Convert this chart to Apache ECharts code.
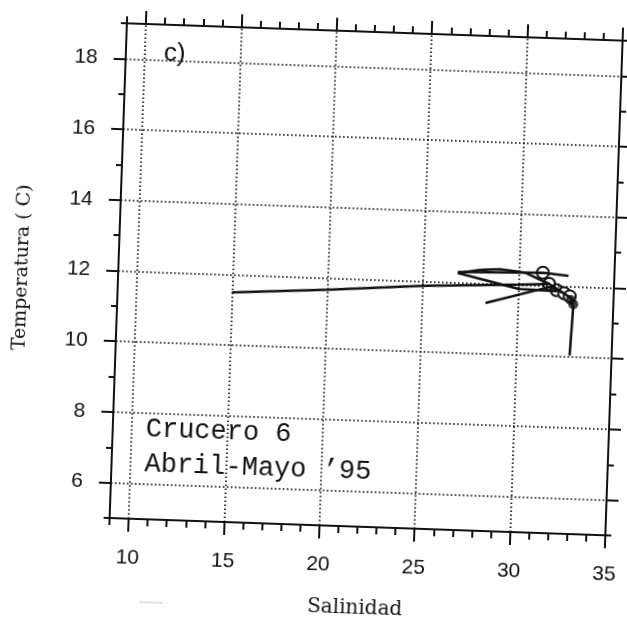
<!DOCTYPE html>
<html>
<head>
<meta charset="utf-8">
<script src="https://cdn.jsdelivr.net/npm/echarts@6/dist/echarts.min.js"></script>
<style>
  html, body { margin: 0; padding: 0; background: #fff; overflow: hidden; }
  #chart { width: 627px; height: 620px; transform: rotate(2deg); }
</style>
</head>
<body>
<div id="chart"></div>
<script>
// ticks
const xTicks = [10, 15, 20, 25, 30, 35]
const yTicks = [6, 8, 10, 12, 14, 16, 18]
const xGrid = [10, 15, 20, 25, 30]

// perfiles T-S (salinidad, temperatura)
const perfilLargo = [[15.0, 11.5], [20, 11.67], [25, 11.87], [30, 12.0], [31.6, 12.05], [32.4, 11.8]]
const perfilAlto = [[26.8, 12.3], [31.25, 12.36], [32.6, 12.3]]
const perfilCurvo = [[26.8, 12.27], [28, 12.38], [29, 12.42], [30.3, 12.35], [31.6, 12.05]]
const perfilCruce = [[26.8, 12.27], [30, 11.88], [32.0, 11.85]]
const perfilBajo = [[28.3, 11.45], [31.6, 11.96], [32.4, 11.8]]
const perfilProfundo = [[32.4, 11.8], [32.8, 11.65], [32.9, 11.4], [32.8, 10.05]]
const circulos = [[31.25, 12.36], [31.6, 12.05], [32.0, 11.88], [32.4, 11.8], [32.7, 11.72]]
const relleno = [[32.75, 11.62], [32.9, 11.5]]

const chart = echarts.init(document.getElementById('chart'), null, { renderer: 'canvas' })

const black = '#111'
const tickFont = { color: black, fontSize: 21, fontFamily: 'Liberation Sans' }

const majorX = (pos, labels) => ({
  type: 'value', min: 9, max: 35, position: pos,
  axisLine: { show: true, onZero: false, lineStyle: { color: black, width: 2 } },
  axisTick: { show: true, inside: false, length: 13, customValues: xTicks, lineStyle: { color: black, width: 2 } },
  axisLabel: labels ? Object.assign({ show: true, margin: 29, customValues: xTicks }, tickFont) : { show: false },
  splitLine: { show: false }
})
const minorX = (pos) => ({
  type: 'value', min: 9, max: 35, interval: 1, position: pos,
  axisLine: { show: false, onZero: false },
  axisTick: { show: true, inside: false, length: 7, lineStyle: { color: black, width: 2 } },
  axisLabel: { show: false },
  splitLine: { show: false }
})
const majorY = (pos, labels) => ({
  type: 'value', min: 5, max: 19, position: pos,
  axisLine: { show: true, onZero: false, lineStyle: { color: black, width: 2 } },
  axisTick: { show: true, inside: false, length: 12, customValues: yTicks, lineStyle: { color: black, width: 2 } },
  axisLabel: labels ? Object.assign({ show: true, margin: 28, customValues: yTicks }, tickFont) : { show: false },
  splitLine: { show: false }
})
const minorY = (pos) => ({
  type: 'value', min: 5, max: 19, interval: 1, position: pos,
  axisLine: { show: false, onZero: false },
  axisTick: { show: true, inside: false, length: 6, lineStyle: { color: black, width: 2 } },
  axisLabel: { show: false },
  splitLine: { show: false }
})

const xMain = majorX('bottom', true)
xMain.name = 'Salinidad'
xMain.nameLocation = 'middle'
xMain.nameGap = 72
xMain.nameTextStyle = { color: black, fontSize: 20, fontFamily: 'DejaVu Serif' }

const yMain = majorY('left', true)
yMain.name = 'Temperatura ( C)'
yMain.nameLocation = 'middle'
yMain.nameGap = 86
yMain.nameTextStyle = { color: black, fontSize: 19, fontFamily: 'DejaVu Serif' }

const linea = (data) => ({
  type: 'line', data: data, xAxisIndex: 0, yAxisIndex: 0,
  symbol: 'none', smooth: false, silent: true,
  lineStyle: { color: black, width: 2.5 }
})

const option = {
  animation: false,
  backgroundColor: '#fff',
  grid: { left: 117, top: 30, width: 496, height: 495, containLabel: false, outerBoundsMode: 'none' },
  xAxis: [xMain, minorX('bottom'), majorX('top', false), minorX('top')],
  yAxis: [yMain, minorY('left'), majorY('right', false), minorY('right')],
  graphic: [
    {
      type: 'text', left: 150, top: 417,
      style: { text: 'Crucero 6\nAbril-Mayo \u201995', fill: black, font: '27px "Liberation Mono"', lineHeight: 35 }
    },
    {
      type: 'text', left: 152, top: 46,
      style: { text: 'c)', fill: black, font: '26px "Liberation Sans"', backgroundColor: '#fff', padding: [0, 3] }
    },
    {
      type: 'line', shape: { x1: 150, y1: 608, x2: 174, y2: 608 },
      style: { stroke: '#888', lineWidth: 1, lineDash: [1, 1] }
    }
  ],
  series: [
    {
      type: 'line', data: [], xAxisIndex: 0, yAxisIndex: 0, silent: true,
      markLine: {
        silent: true, symbol: 'none', label: { show: false },
        lineStyle: { color: '#000', width: 1.6, type: [1.6, 2.4] },
        data: xGrid.map(v => ({ xAxis: v })).concat(yTicks.map(v => ({ yAxis: v })))
      }
    },
    linea(perfilLargo),
    linea(perfilAlto),
    linea(perfilCurvo),
    linea(perfilCruce),
    linea(perfilBajo),
    linea(perfilProfundo),
    {
      type: 'scatter', data: circulos, xAxisIndex: 0, yAxisIndex: 0, silent: true,
      symbol: 'circle', symbolSize: 12,
      itemStyle: { color: '#fff', borderColor: black, borderWidth: 2, opacity: 1 }
    },
    {
      type: 'scatter', data: relleno, xAxisIndex: 0, yAxisIndex: 0, silent: true,
      symbol: 'circle', symbolSize: 10, itemStyle: { color: black }
    }
  ]
}

chart.setOption(option)
</script>
</body>
</html>
